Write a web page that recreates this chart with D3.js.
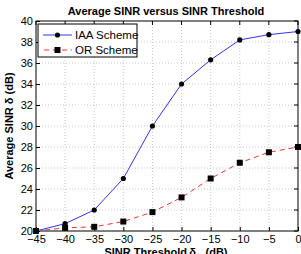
<!DOCTYPE html>
<html><head><meta charset="utf-8">
<script src="https://cdn.jsdelivr.net/npm/d3@7"></script>
<style>body{margin:0;background:#fff}svg{display:block}text{font-family:"Liberation Sans",Arial,sans-serif}</style>
</head><body>
<svg id="c" width="301" height="254"></svg>
<script>
const thresholds = [-45,-40,-35,-30,-25,-20,-15,-10,-5,0];
const iaa = [20,20.7,22,25,30,34,36.3,38.2,38.7,39];
const orS = [20,20.3,20.4,20.9,21.8,23.2,25,26.5,27.5,28];
const xTicks = [-45,-40,-35,-30,-25,-20,-15,-10,-5,0];
const yTicks = [20,22,24,26,28,30,32,34,36,38,40];

const svg = d3.select("#c");
const m = {l:36, r:298, t:21, b:231};
const x = d3.scaleLinear().domain([-45,0]).range([m.l,m.r]);
const y = d3.scaleLinear().domain([20,40]).range([m.b,m.t]);

// grid
const g = svg.append("g");
g.selectAll(".gx").data(xTicks.slice(1,-1)).enter().append("line")
 .attr("x1",d=>x(d)).attr("x2",d=>x(d)).attr("y1",m.t).attr("y2",m.b)
 .attr("stroke","#bbb").attr("stroke-width",0.8).attr("stroke-dasharray","1,2");
g.selectAll(".gy").data(yTicks.slice(1,-1)).enter().append("line")
 .attr("y1",d=>y(d)).attr("y2",d=>y(d)).attr("x1",m.l).attr("x2",m.r)
 .attr("stroke","#bbb").attr("stroke-width",0.8).attr("stroke-dasharray","1,2");

// axes
const xa = svg.append("g").attr("transform",`translate(0,${m.b})`)
 .call(d3.axisBottom(x).tickValues(xTicks).tickSize(-4).tickPadding(4).tickFormat(d=>d<0?"\u2212"+(-d):d));
const ya = svg.append("g").attr("transform",`translate(${m.l},0)`)
 .call(d3.axisLeft(y).tickValues(yTicks).tickSize(-4).tickPadding(3));
[xa,ya].forEach(a=>{a.select(".domain").remove();a.selectAll("line").attr("stroke","#000");
 a.selectAll("text").attr("font-size",11).attr("fill","#000");});
// top/right ticks
svg.append("g").selectAll("line").data(xTicks).enter().append("line")
 .attr("x1",d=>x(d)).attr("x2",d=>x(d)).attr("y1",m.t).attr("y2",m.t+4).attr("stroke","#000");
svg.append("g").selectAll("line").data(yTicks).enter().append("line")
 .attr("y1",d=>y(d)).attr("y2",d=>y(d)).attr("x1",m.r).attr("x2",m.r-4).attr("stroke","#000");
svg.append("rect").attr("x",m.l).attr("y",m.t).attr("width",m.r-m.l).attr("height",m.b-m.t)
 .attr("fill","none").attr("stroke","#000").attr("stroke-width",1);

const line = d3.line().x((d,i)=>x(thresholds[i])).y(d=>y(d));
svg.append("path").datum(iaa).attr("d",line).attr("fill","none").attr("stroke","#3333ee").attr("stroke-width",1);
svg.append("path").datum(orS).attr("d",line).attr("fill","none").attr("stroke","#ee3333").attr("stroke-width",1).attr("stroke-dasharray","5,4");
svg.append("g").selectAll("circle").data(iaa).enter().append("circle")
 .attr("cx",(d,i)=>x(thresholds[i])).attr("cy",d=>y(d)).attr("r",2.6).attr("fill","#000");
svg.append("g").selectAll("rect").data(orS).enter().append("rect")
 .attr("x",(d,i)=>x(thresholds[i])-3).attr("y",d=>y(d)-3).attr("width",6).attr("height",6).attr("fill","#000");

// legend
const lg = svg.append("g");
lg.append("rect").attr("x",38).attr("y",24).attr("width",99).attr("height",33).attr("fill","#fff").attr("stroke","#000");
lg.append("line").attr("x1",43).attr("x2",72).attr("y1",35).attr("y2",35).attr("stroke","#3333ee");
lg.append("circle").attr("cx",57.5).attr("cy",35).attr("r",2.6).attr("fill","#000");
lg.append("line").attr("x1",43).attr("x2",72).attr("y1",50).attr("y2",50).attr("stroke","#ee3333").attr("stroke-dasharray","5,4").attr("stroke-dashoffset",-1);
lg.append("rect").attr("x",54.5).attr("y",47).attr("width",6).attr("height",6).attr("fill","#000");
lg.append("text").attr("x",75).attr("y",39).attr("font-size",11.5).text("IAA Scheme");
lg.append("text").attr("x",75).attr("y",54).attr("font-size",11.5).text("OR Scheme");

// title & labels
svg.append("text").attr("x",166).attr("y",15).attr("text-anchor","middle").attr("font-size",11).attr("font-weight","bold").text("Average SINR versus SINR Threshold");
svg.append("text").attr("x",166).attr("y",256).attr("text-anchor","middle").attr("font-size",11).attr("font-weight","bold")
 .html('SINR Threshold\u2009\u03b4<tspan font-size="7" dy="3">th</tspan><tspan dy="-3"> (dB)</tspan>');
svg.append("text").attr("transform","translate(13,126) rotate(-90)").attr("text-anchor","middle").attr("font-size",11).attr("font-weight","bold").text("Average SINR \u03b4 (dB)");
</script>
</body></html>
